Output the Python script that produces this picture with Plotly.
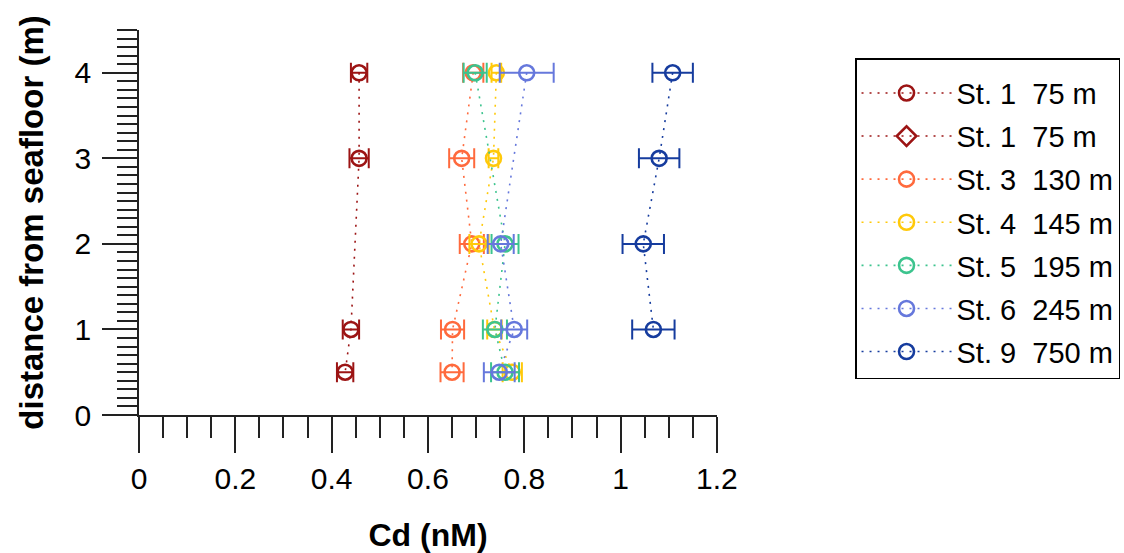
import plotly.graph_objects as go

# Dissolved Cd profiles near the seafloor at each station
heights_st1 = [4, 3, 1, 0.5]
cd_st1 = [0.457, 0.457, 0.440, 0.428]
err_st1 = [0.017, 0.020, 0.017, 0.017]

heights_st1b = [None]
cd_st1b = [None]

heights_st3 = [4, 3, 2, 1, 0.5]
cd_st3 = [0.694, 0.670, 0.691, 0.651, 0.650]
err_st3 = [0.021, 0.026, 0.025, 0.024, 0.024]

heights_st4 = [4, 3, 2, 1, 0.5]
cd_st4 = [0.742, 0.736, 0.706, 0.738, 0.775]
err_st4 = [0.010, 0.010, 0.020, 0.015, 0.020]

heights_st5 = [4, 2, 1, 0.5]
cd_st5 = [0.698, 0.760, 0.739, 0.760]
err_st5 = [0.024, 0.028, 0.025, 0.029]

heights_st6 = [4, 2, 1, 0.5]
cd_st6 = [0.805, 0.751, 0.779, 0.748]
err_st6 = [0.056, 0.027, 0.027, 0.032]

heights_st9 = [4, 3, 2, 1]
cd_st9 = [1.108, 1.080, 1.047, 1.068]
err_st9 = [0.042, 0.042, 0.043, 0.044]

labels = ["St. 1\u00a0 75 m", "St. 1\u00a0 75 m", "St. 3\u00a0 130 m", "St. 4\u00a0 145 m",
          "St. 5\u00a0 195 m", "St. 6\u00a0 245 m", "St. 9\u00a0 750 m"]
colors = ["#9c1414", "#9c1414", "#ff6a3d", "#ffc90a", "#3cc48e", "#6678dc", "#163c9e"]
symbols = ["circle-open", "diamond-open", "circle-open", "circle-open",
           "circle-open", "circle-open", "circle-open"]

series = [
    (cd_st1, heights_st1, err_st1),
    (cd_st1b, heights_st1b, [0]),
    (cd_st3, heights_st3, err_st3),
    (cd_st4, heights_st4, err_st4),
    (cd_st5, heights_st5, err_st5),
    (cd_st6, heights_st6, err_st6),
    (cd_st9, heights_st9, err_st9),
]

FONT = "Arial, Liberation Sans, sans-serif"

fig = go.Figure()
for i, ((xv, yv, ev), name, col, sym) in enumerate(zip(series, labels, colors, symbols)):
    fig.add_trace(go.Scatter(
        x=xv, y=yv, name=name, mode="lines+markers",
        legendgroup=f"g{i}",
        line=dict(color=col, width=1.6, dash="2px,6px"),
        marker=dict(symbol=sym, size=15, color=col, line=dict(width=2.6, color=col)),
        error_x=dict(type="data", array=ev, symmetric=True,
                     color=col, thickness=2, width=10),
    ))

axis_color = "#222222"
fig.update_layout(
    width=1124, height=553,
    margin=dict(l=139, r=407, t=30, b=138, autoexpand=False),
    paper_bgcolor="white", plot_bgcolor="white",
    font=dict(family=FONT, size=30, color="black"),
    showlegend=True,
    legend=dict(
        x=1.2388, y=0.9265, xanchor="left", yanchor="top",
        bgcolor="white", bordercolor="black", borderwidth=1.5,
        font=dict(family=FONT, size=29, color="black"),
        tracegroupgap=2.4, itemwidth=90,
        title=dict(text="\u00a0", font=dict(size=6)),
    ),
    xaxis=dict(
        range=[0, 1.2001], tick0=0, dtick=0.2, automargin=False,
        showline=True, linecolor=axis_color, linewidth=1.5,
        ticks="outside", ticklen=36, tickwidth=1.5, tickcolor=axis_color,
        minor=dict(dtick=0.05, ticks="outside", ticklen=21, tickwidth=1.5, tickcolor=axis_color),
        showgrid=False, zeroline=False,
        tickfont=dict(family=FONT, size=30), ticklabelstandoff=0,
        title=dict(text="<b>Cd (nM)</b>", font=dict(family=FONT, size=32), standoff=39),
    ),
    yaxis=dict(
        range=[0, 4.5], tick0=0, dtick=1, automargin=False,
        showline=True, linecolor=axis_color, linewidth=1.5,
        ticks="outside", ticklen=35, tickwidth=1.5, tickcolor=axis_color,
        minor=dict(dtick=0.1, ticks="outside", ticklen=20, tickwidth=1.5, tickcolor=axis_color),
        showgrid=False, zeroline=False,
        tickfont=dict(family=FONT, size=30), ticklabelstandoff=5,
        title=dict(text="<b>distance from seafloor (m)</b>", font=dict(family=FONT, size=33), standoff=21),
    ),
)

fig.write_html("out.html")
